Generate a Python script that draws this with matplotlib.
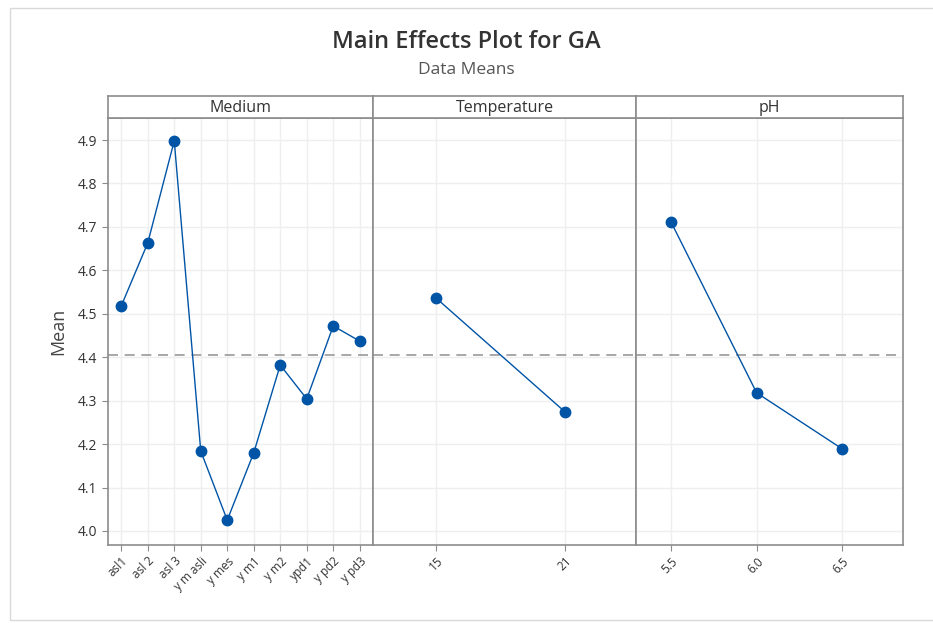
import matplotlib
matplotlib.use("Agg")
import matplotlib.pyplot as plt
from matplotlib.patches import Rectangle

plt.rcParams['font.family'] = ['Open Sans', 'DejaVu Sans']

medium_labels = ["asl1", "asl 2", "asl 3", "y m asli", "y mes", "y m1", "y m2", "ypd1", "y pd2", "y pd3"]
medium_means = [4.518, 4.663, 4.898, 4.184, 4.025, 4.180, 4.382, 4.304, 4.472, 4.437]
temp_labels = ["15", "21"]
temp_means = [4.536, 4.274]
ph_labels = ["5.5", "6.0", "6.5"]
ph_means = [4.711, 4.318, 4.189]
overall_mean = 4.405
y_ticks = [4.0, 4.1, 4.2, 4.3, 4.4, 4.5, 4.6, 4.7, 4.8, 4.9]

W, H = 933, 623
fig = plt.figure(figsize=(W/100, H/100), dpi=100)

def fx(px): return px / W
def fy(py): return 1 - py / H

# outer light border
fig.patches.append(Rectangle((fx(10), fy(620)), fx(933-10)+0.01, fy(8)-fy(620), transform=fig.transFigure,
                             fill=False, edgecolor='#d9d9d9', linewidth=1.0))

fig.text(0.5, fy(42), "Main Effects Plot for GA", ha='center', va='center', fontsize=17,
         fontweight='semibold', color='#333333')
fig.text(0.5, fy(70), "Data Means", ha='center', va='center', fontsize=12.5, color='#555555')

panels = [
    ("Medium", medium_labels, medium_means, 108, 373, (-0.5, 9.5)),
    ("Temperature", temp_labels, temp_means, 373, 636, (-0.49, 1.55)),
    ("pH", ph_labels, ph_means, 636, 903, (-0.41, 2.71)),
]

top_px, strip_top_px, bottom_px = 118, 96, 545
ymin = 4.0 - (545 - 531) / 434.4
ymax = 4.9 + (140 - 118) / 434.4

edge = '#8c8c8c'
blue = '#0054A6'
for i, (name, labels, means, x0, x1, xl) in enumerate(panels):
    ax = fig.add_axes([fx(x0), fy(bottom_px), fx(x1 - x0), fy(top_px) - fy(bottom_px)])
    xs = list(range(len(labels)))
    ax.axhline(overall_mean, color='#999999', linestyle=(0, (6, 4)), linewidth=1.2, zorder=2)
    ax.plot(xs, means, color=blue, linewidth=1.0, marker='o', markersize=7.5, zorder=3)
    ax.set_xlim(*xl)
    ax.set_ylim(ymin, ymax)
    ax.set_xticks(xs)
    ax.set_xticklabels(labels, rotation=45, ha='right', rotation_mode='anchor', fontsize=8.5, color='#333333')
    ax.set_yticks(y_ticks)
    ax.grid(True, color='#efefef', linewidth=1.0, zorder=0)
    ax.set_axisbelow(True)
    for s in ax.spines.values():
        s.set_color(edge)
        s.set_linewidth(1.2)
    ax.tick_params(axis='x', length=4, color=edge, pad=3)
    if i == 0:
        ax.set_yticklabels([f"{v:.1f}" for v in y_ticks], fontsize=10, color='#333333')
        ax.tick_params(axis='y', length=4, color=edge)
        ax.set_ylabel("Mean", fontsize=13, color='#444444', labelpad=8)
    else:
        ax.tick_params(axis='y', length=0, labelleft=False)
    # strip
    sax = fig.add_axes([fx(x0), fy(top_px), fx(x1 - x0), fy(strip_top_px) - fy(top_px)])
    sax.set_xticks([]); sax.set_yticks([])
    for s in sax.spines.values():
        s.set_color(edge)
        s.set_linewidth(1.2)
    sax.text(0.5, 0.45, name, ha='center', va='center', fontsize=11.5, color='#333333', transform=sax.transAxes)

fig.savefig("out.png", dpi=100)
